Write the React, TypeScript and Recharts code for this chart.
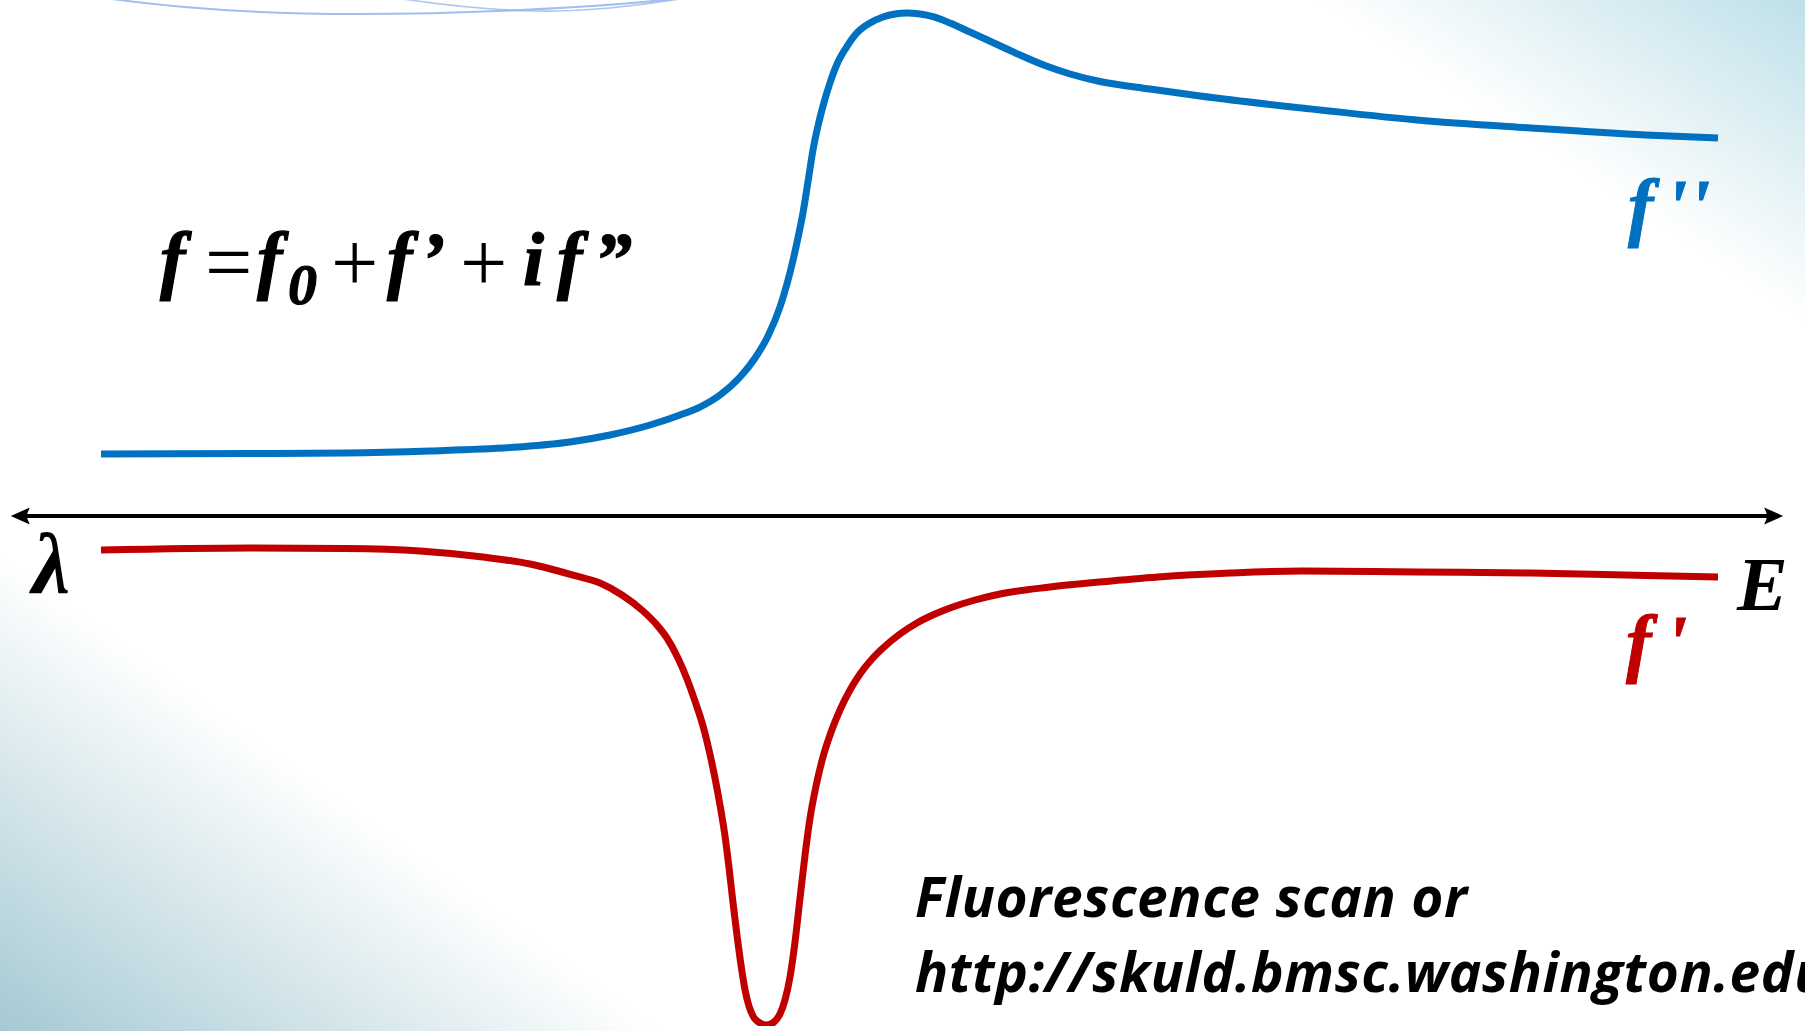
import React from 'react';
import { LineChart, Line, XAxis, YAxis, ReferenceLine } from 'recharts';

// f'' (imaginary part, blue) sampled along the energy axis (arbitrary units 0..100)
const fppEnergy = [0, 9.21, 15.09, 20.35, 25.79, 29.0, 31.48, 33.95, 35.81, 37.04, 38.28, 39.52, 40.45, 41.25, 41.99, 42.8, 43.1, 43.41, 43.72, 44.03, 44.34, 44.65, 45.08, 45.52, 46.07, 46.75, 47.56, 48.36, 49.1, 49.85, 50.65, 51.45, 52.5, 53.74, 55.29, 56.83, 58.38, 59.93, 61.78, 64.87, 67.97, 74.27, 81.39, 88.44, 95.55, 100];
const fppValues = [1.216, 1.225, 1.235, 1.275, 1.353, 1.451, 1.588, 1.784, 1.98, 2.137, 2.373, 2.725, 3.098, 3.529, 4.098, 5.02, 5.451, 5.941, 6.549, 7.176, 7.647, 8.039, 8.49, 8.863, 9.176, 9.471, 9.667, 9.784, 9.843, 9.863, 9.843, 9.792, 9.667, 9.49, 9.265, 9.039, 8.833, 8.667, 8.52, 8.373, 8.235, 8.0, 7.765, 7.608, 7.471, 7.412];

// f' (real part, red)
const fpEnergy = [0, 9.21, 15.09, 19.73, 23.62, 26.53, 29.38, 30.86, 32.22, 33.52, 34.38, 35.0, 35.68, 36.24, 36.73, 37.23, 37.6, 37.97, 38.28, 38.59, 38.84, 39.08, 39.33, 39.58, 39.83, 40.07, 40.32, 40.75, 41.19, 41.62, 41.99, 42.3, 42.61, 42.92, 43.23, 43.54, 43.85, 44.22, 44.65, 45.15, 45.7, 46.32, 46.94, 47.68, 48.36, 49.41, 50.46, 51.58, 52.5, 54.05, 55.6, 58.69, 61.78, 65.37, 69.82, 74.27, 81.39, 88.44, 95.55, 100];
const fpValues = [-0.667, -0.627, -0.637, -0.686, -0.804, -0.941, -1.176, -1.314, -1.549, -1.863, -2.137, -2.392, -2.784, -3.196, -3.627, -4.118, -4.588, -5.137, -5.667, -6.275, -6.902, -7.569, -8.216, -8.804, -9.294, -9.608, -9.804, -9.941, -9.98, -9.922, -9.765, -9.49, -9.039, -8.353, -7.49, -6.647, -5.922, -5.294, -4.725, -4.235, -3.804, -3.412, -3.098, -2.804, -2.588, -2.314, -2.098, -1.922, -1.804, -1.647, -1.529, -1.392, -1.294, -1.196, -1.118, -1.078, -1.098, -1.118, -1.167, -1.196];

// energy axis arrow extent (beyond the plotted range)
const axisExtent = [-4.9, 103.35];

const labelFormulaParts = ['f', '=', 'f', '0', '+', 'f', '\u2019', '+', 'i', 'f', '\u201D'];
const labelFppParts = ['f', "'", "'"];
const labelFpParts = ['f', "'"];
const labelLambda = '\u03BB';
const labelE = 'E';
const noteLines = ['Fluorescence scan or', 'http://skuld.bmsc.washington.edu'];

const fppData = fppEnergy.map((x, i) => ({ x, v: fppValues[i] }));
const fpData = fpEnergy.map((x, i) => ({ x, v: fpValues[i] }));

const BLUE = '#0070C0';
const RED = '#C00000';
const SERIF = '"Liberation Serif", "Times New Roman", serif';

export default function App() {
  const bg =
    'linear-gradient(33.4deg, rgba(255,255,255,0) 85.5%, #bee0e9 100%), ' +
    'linear-gradient(215.7deg, rgba(255,255,255,0) 79.5%, #a5c9d3 100%), #ffffff';
  const opX = [160, 205, 257, 288, 331, 387, 420, 460, 523, 557, 594];
  return (
    <div style={{ position: 'absolute', left: 0, top: 0, width: 1805, height: 1031, background: bg, overflow: 'hidden' }}>
      <LineChart width={1805} height={1031} margin={{ top: 6, right: 87, bottom: 5, left: 101 }}>
        <defs>
          <marker id="arrowHead" viewBox="0 -10 20 20" refX={8} refY={0} markerWidth={20} markerHeight={20}
            markerUnits="userSpaceOnUse" orient="auto-start-reverse">
            <path d="M0,-8.5 L19,0 L0,8.5 L3.5,0 Z" fill="#000" />
          </marker>
        </defs>
        <XAxis type="number" dataKey="x" domain={[0, 100]} hide allowDataOverflow />
        <YAxis type="number" domain={[-10, 10]} hide allowDataOverflow />
        <path d="M112,-1 C200,11 290,14 357,14 C450,14 580,9 673,-1" fill="none" stroke="#8fb4e8" strokeWidth={2} opacity={0.85} />
        <path d="M403,-1 C450,6 490,10 536,11 C590,12 630,6 680,-1" fill="none" stroke="#8fb4e8" strokeWidth={1.6} opacity={0.75} />
        <ReferenceLine
          segment={[{ x: axisExtent[0], y: 0 }, { x: axisExtent[1], y: 0 }]}
          ifOverflow="visible"
          shape={(p: any) => (
            <line x1={p.x1} y1={p.y1} x2={p.x2} y2={p.y2} stroke="#000" strokeWidth={4}
              markerStart="url(#arrowHead)" markerEnd="url(#arrowHead)" />
          )}
        />
        <Line data={fppData} dataKey="v" type="monotone" stroke={BLUE} strokeWidth={7} dot={false} activeDot={false} isAnimationActive={false} />
        <Line data={fpData} dataKey="v" type="monotone" stroke={RED} strokeWidth={7} dot={false} activeDot={false} isAnimationActive={false} />

        <text fontFamily={SERIF} fontSize={76} fill="#000">
          {labelFormulaParts.map((ch, i) => {
            const isOp = ch === '=' || ch === '+';
            const isSub = i === 3;
            return (
              <tspan key={i} x={opX[i]} y={isSub ? 304 : isOp ? 291 : 285}
                fontWeight={isOp ? 'normal' : 'bold'} fontStyle={isOp ? 'normal' : 'italic'}
                stroke={isOp ? 'none' : '#000'} strokeWidth={isOp ? 0 : 1.2}
                fontSize={isSub ? 58 : isOp ? 84 : 76}>{ch}</tspan>
            );
          })}
        </text>

        <text fontFamily={SERIF} fontSize={76} fontWeight="bold" fontStyle="italic" fill={BLUE} stroke={BLUE} strokeWidth={1}>
          <tspan x={1628} y={232}>{labelFppParts[0]}</tspan>
          <tspan x={1666} y={232}>{labelFppParts[1]}</tspan>
          <tspan x={1689} y={232}>{labelFppParts[2]}</tspan>
        </text>
        <text fontFamily={SERIF} fontSize={76} fontWeight="bold" fontStyle="italic" fill={RED} stroke={RED} strokeWidth={1}>
          <tspan x={1626} y={668}>{labelFpParts[0]}</tspan>
          <tspan x={1666} y={668}>{labelFpParts[1]}</tspan>
        </text>
        <text x={32} y={593} fontFamily={SERIF} fontSize={86} fontWeight="bold" fontStyle="italic" fill="#000">{labelLambda}</text>
        <text x={1737} y={610} fontFamily={SERIF} fontSize={76} fontWeight="bold" fontStyle="italic" fill="#000">{labelE}</text>

        <text fontFamily="'Open Sans', Lato, sans-serif" fontSize={55} fontWeight="bold" fontStyle="italic" letterSpacing={0.6} fill="#000">
          <tspan x={915} y={917}>{noteLines[0]}</tspan>
          <tspan x={915} y={992}>{noteLines[1]}</tspan>
        </text>
      </LineChart>
    </div>
  );
}
